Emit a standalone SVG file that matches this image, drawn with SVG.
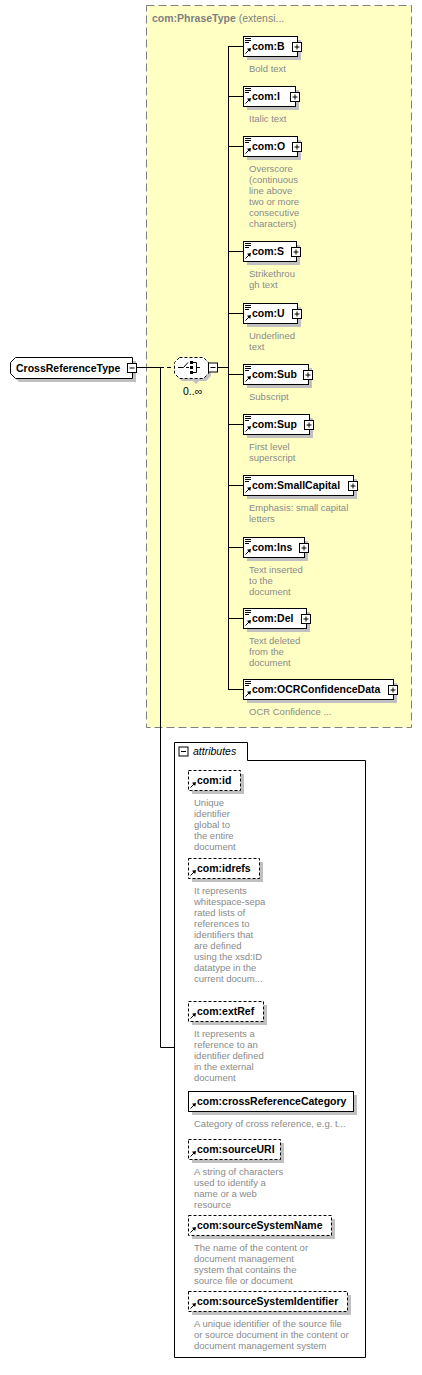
<svg xmlns="http://www.w3.org/2000/svg" xmlns:xlink="http://www.w3.org/1999/xlink" width="422" height="1375" viewBox="0 0 422 1375">
<style>
.box{fill:#fff;stroke:#000;stroke-width:1}
.dbox{fill:#fff;stroke:#000;stroke-width:1;stroke-dasharray:3,2}
.sh{fill:#c0c0c0}
.lbl{font-family:"Liberation Sans",Arial,sans-serif;font-weight:bold;font-size:10.5px;fill:#000}
.desc{font-family:"Liberation Sans",Arial,sans-serif;font-size:9.5px;fill:#8a8a8a}
.ln{stroke:#000;stroke-width:1;fill:none}
.btn{fill:#fff;stroke:#000;stroke-width:1}
</style>
<defs>
<g id="plus"><rect class="btn" x="-4.5" y="-4.5" width="9" height="9"/><path class="ln" d="M-2.5,0H2.5M0,-2.5V2.5"/></g>
<g id="minus"><rect class="btn" x="-4.5" y="-4.5" width="9" height="9"/><path class="ln" d="M-2.5,0H2.5"/></g>
<g id="arrow"><path class="ln" d="M2.5,17.5L6,14"/><path d="M8,12L4,12.8L7.2,16Z" fill="#000"/></g>
<g id="ico"><path class="ln" d="M2,2.5h6M2,4.5h6M2,6.5h4"/><use xlink:href="#arrow"/></g>
</defs>

<rect x="146.5" y="5.5" width="265" height="722" fill="#ffffc4" stroke="#808080" stroke-dasharray="8,4"/>
<text x="152" y="22" style="font-family:'Liberation Sans',Arial,sans-serif;font-size:10.5px;fill:#808080"><tspan font-weight="bold">com:PhraseType</tspan> (extensi...</text>

<g id="connectors">
<path class="ln" d="M136,367.5H160"/>
<path class="ln" d="M160,367.5H174" stroke-dasharray="4,3"/>
<path class="ln" d="M160.5,367V1047.5H174"/>
<path class="ln" d="M218,367.5H228.5"/>
<path class="ln" d="M228.5,46V689"/>
<path class="ln" d="M228,46.5H243M228,96.5H243M228,146.5H243M228,251.5H243M228,313.5H243M228,374.5H243M228,424.5H243M228,485.5H243M228,547.5H243M228,618.5H243M228,689.5H243"/>
</g>

<g id="CrossReferenceType">
<path class="sh" d="M19,361H136V382H19L14,377V366Z"/>
<path class="box" d="M15.5,357.5H132.5V378.5H15.5L10.5,373.5V362.5Z"/>
<text class="lbl" x="16" y="372">CrossReferenceType</text>
<use xlink:href="#minus" x="132" y="368"/>
</g>

<g id="sequence">
<path class="sh" d="M182,360H206L211,365V376L206,381H199L196,384L193,381H182L177,376V365Z"/>
<path class="dbox" d="M179.5,357.5H203.5L208.5,362.5V373.5L203.5,378.5H179.5L174.5,373.5V362.5Z"/>
<path class="ln" d="M178,367.5H183.5L188,362.5M186,367.5H189"/>
<rect x="190" y="361" width="3" height="3" fill="#000"/>
<rect x="190" y="366" width="3" height="3" fill="#000"/>
<rect x="190" y="371" width="3" height="3" fill="#000"/>
<path class="ln" d="M193,362.5H196.5V372.5H193M196.5,367.5H200"/>
<use xlink:href="#minus" x="213" y="367.5"/>
<text x="183" y="395" style="font-family:'Liberation Sans',Arial,sans-serif;font-size:10.5px;fill:#000">0..∞</text>
</g>

<g id="com-B">
<rect class="sh" x="247" y="40" width="54" height="20"/><rect class="box" x="243.5" y="36.5" width="54" height="20"/><use xlink:href="#ico" x="243" y="36"/>
<text class="lbl" x="252" y="50">com:B</text><use xlink:href="#plus" x="297" y="47"/>
<text class="desc" x="249" y="72">Bold text</text>
</g>
<g id="com-I">
<rect class="sh" x="247" y="90" width="52" height="20"/><rect class="box" x="243.5" y="86.5" width="52" height="20"/><use xlink:href="#ico" x="243" y="86"/>
<text class="lbl" x="252" y="100">com:I</text><use xlink:href="#plus" x="295" y="97"/>
<text class="desc" x="249" y="122">Italic text</text>
</g>
<g id="com-O">
<rect class="sh" x="247" y="140" width="54" height="20"/><rect class="box" x="243.5" y="136.5" width="54" height="20"/><use xlink:href="#ico" x="243" y="136"/>
<text class="lbl" x="252" y="150">com:O</text><use xlink:href="#plus" x="297" y="147"/>
<text class="desc" x="249" y="172">Overscore</text><text class="desc" x="249" y="183">(continuous</text><text class="desc" x="249" y="194">line above</text><text class="desc" x="249" y="205">two or more</text><text class="desc" x="249" y="216">consecutive</text><text class="desc" x="249" y="227">characters)</text>
</g>
<g id="com-S">
<rect class="sh" x="247" y="245" width="53" height="20"/><rect class="box" x="243.5" y="241.5" width="53" height="20"/><use xlink:href="#ico" x="243" y="241"/>
<text class="lbl" x="252" y="255">com:S</text><use xlink:href="#plus" x="296" y="252"/>
<text class="desc" x="249" y="277">Strikethrou</text><text class="desc" x="249" y="288">gh text</text>
</g>
<g id="com-U">
<rect class="sh" x="247" y="307" width="54" height="20"/><rect class="box" x="243.5" y="303.5" width="54" height="20"/><use xlink:href="#ico" x="243" y="303"/>
<text class="lbl" x="252" y="317">com:U</text><use xlink:href="#plus" x="297" y="314"/>
<text class="desc" x="249" y="339">Underlined</text><text class="desc" x="249" y="350">text</text>
</g>
<g id="com-Sub">
<rect class="sh" x="247" y="368" width="65" height="20"/><rect class="box" x="243.5" y="364.5" width="65" height="20"/><use xlink:href="#ico" x="243" y="364"/>
<text class="lbl" x="252" y="378">com:Sub</text><use xlink:href="#plus" x="308" y="375"/>
<text class="desc" x="249" y="400">Subscript</text>
</g>
<g id="com-Sup">
<rect class="sh" x="247" y="418" width="66" height="20"/><rect class="box" x="243.5" y="414.5" width="66" height="20"/><use xlink:href="#ico" x="243" y="414"/>
<text class="lbl" x="252" y="428">com:Sup</text><use xlink:href="#plus" x="309" y="425"/>
<text class="desc" x="249" y="450">First level</text><text class="desc" x="249" y="461">superscript</text>
</g>
<g id="com-SmallCapital">
<rect class="sh" x="247" y="479" width="110" height="20"/><rect class="box" x="243.5" y="475.5" width="110" height="20"/><use xlink:href="#ico" x="243" y="475"/>
<text class="lbl" x="252" y="489">com:SmallCapital</text><use xlink:href="#plus" x="353" y="486"/>
<text class="desc" x="249" y="511">Emphasis: small capital</text><text class="desc" x="249" y="522">letters</text>
</g>
<g id="com-Ins">
<rect class="sh" x="247" y="541" width="61" height="20"/><rect class="box" x="243.5" y="537.5" width="61" height="20"/><use xlink:href="#ico" x="243" y="537"/>
<text class="lbl" x="252" y="551">com:Ins</text><use xlink:href="#plus" x="304" y="548"/>
<text class="desc" x="249" y="573">Text inserted</text><text class="desc" x="249" y="584">to the</text><text class="desc" x="249" y="595">document</text>
</g>
<g id="com-Del">
<rect class="sh" x="247" y="612" width="63" height="20"/><rect class="box" x="243.5" y="608.5" width="63" height="20"/><use xlink:href="#ico" x="243" y="608"/>
<text class="lbl" x="252" y="622">com:Del</text><use xlink:href="#plus" x="306" y="619"/>
<text class="desc" x="249" y="644">Text deleted</text><text class="desc" x="249" y="655">from the</text><text class="desc" x="249" y="666">document</text>
</g>
<g id="com-OCRConfidenceData">
<rect class="sh" x="247" y="683" width="150" height="20"/><rect class="box" x="243.5" y="679.5" width="150" height="20"/><use xlink:href="#ico" x="243" y="679"/>
<text class="lbl" x="252" y="693">com:OCRConfidenceData</text><use xlink:href="#plus" x="393" y="690"/>
<text class="desc" x="249" y="715">OCR Confidence ...</text>
</g>

<g id="attributes">
<path class="box" d="M174.5,742.5H247.5V760.5H365.5V1357.5H174.5Z"/>
<use xlink:href="#minus" x="183.5" y="751.5"/>
<text x="193" y="755" style="font-family:'Liberation Sans',Arial,sans-serif;font-style:italic;font-size:10.5px;fill:#000">attributes</text>
</g>

<g id="com-id">
<rect class="sh" x="192" y="774" width="52" height="20"/><rect class="dbox" x="188.5" y="770.5" width="52" height="20"/><use xlink:href="#arrow" x="188" y="770"/>
<text class="lbl" x="197" y="784">com:id</text>
<text class="desc" x="194" y="806">Unique</text><text class="desc" x="194" y="817">identifier</text><text class="desc" x="194" y="828">global to</text><text class="desc" x="194" y="839">the entire</text><text class="desc" x="194" y="850">document</text>
</g>
<g id="com-idrefs">
<rect class="sh" x="192" y="862" width="71" height="20"/><rect class="dbox" x="188.5" y="858.5" width="71" height="20"/><use xlink:href="#arrow" x="188" y="858"/>
<text class="lbl" x="197" y="872">com:idrefs</text>
<text class="desc" x="194" y="894">It represents</text><text class="desc" x="194" y="905">whitespace-sepa</text><text class="desc" x="194" y="916">rated lists of</text><text class="desc" x="194" y="927">references to</text><text class="desc" x="194" y="938">identifiers that</text><text class="desc" x="194" y="949">are defined</text><text class="desc" x="194" y="960">using the xsd:ID</text><text class="desc" x="194" y="971">datatype in the</text><text class="desc" x="194" y="982">current docum...</text>
</g>
<g id="com-extRef">
<rect class="sh" x="192" y="1005" width="75" height="20"/><rect class="dbox" x="188.5" y="1001.5" width="75" height="20"/><use xlink:href="#arrow" x="188" y="1001"/>
<text class="lbl" x="197" y="1015">com:extRef</text>
<text class="desc" x="194" y="1037">It represents a</text><text class="desc" x="194" y="1048">reference to an</text><text class="desc" x="194" y="1059">identifier defined</text><text class="desc" x="194" y="1070">in the external</text><text class="desc" x="194" y="1081">document</text>
</g>
<g id="com-crossReferenceCategory">
<rect class="sh" x="192" y="1095" width="165" height="20"/><rect class="box" x="188.5" y="1091.5" width="165" height="20"/><use xlink:href="#arrow" x="188" y="1091"/>
<text class="lbl" x="197" y="1105">com:crossReferenceCategory</text>
<text class="desc" x="194" y="1127">Category of cross reference, e.g. t...</text>
</g>
<g id="com-sourceURI">
<rect class="sh" x="192" y="1143" width="92" height="20"/><rect class="dbox" x="188.5" y="1139.5" width="92" height="20"/><use xlink:href="#arrow" x="188" y="1139"/>
<text class="lbl" x="197" y="1153">com:sourceURI</text>
<text class="desc" x="194" y="1175">A string of characters</text><text class="desc" x="194" y="1186">used to identify a</text><text class="desc" x="194" y="1197">name or a web</text><text class="desc" x="194" y="1208">resource</text>
</g>
<g id="com-sourceSystemName">
<rect class="sh" x="192" y="1219" width="143" height="20"/><rect class="dbox" x="188.5" y="1215.5" width="143" height="20"/><use xlink:href="#arrow" x="188" y="1215"/>
<text class="lbl" x="197" y="1229">com:sourceSystemName</text>
<text class="desc" x="194" y="1251">The name of the content or</text><text class="desc" x="194" y="1262">document management</text><text class="desc" x="194" y="1273">system that contains the</text><text class="desc" x="194" y="1284">source file or document</text>
</g>
<g id="com-sourceSystemIdentifier">
<rect class="sh" x="192" y="1295" width="159" height="20"/><rect class="dbox" x="188.5" y="1291.5" width="159" height="20"/><use xlink:href="#arrow" x="188" y="1291"/>
<text class="lbl" x="197" y="1305">com:sourceSystemIdentifier</text>
<text class="desc" x="194" y="1327">A unique identifier of the source file</text><text class="desc" x="194" y="1338">or source document in the content or</text><text class="desc" x="194" y="1349">document management system</text>
</g>
</svg>
